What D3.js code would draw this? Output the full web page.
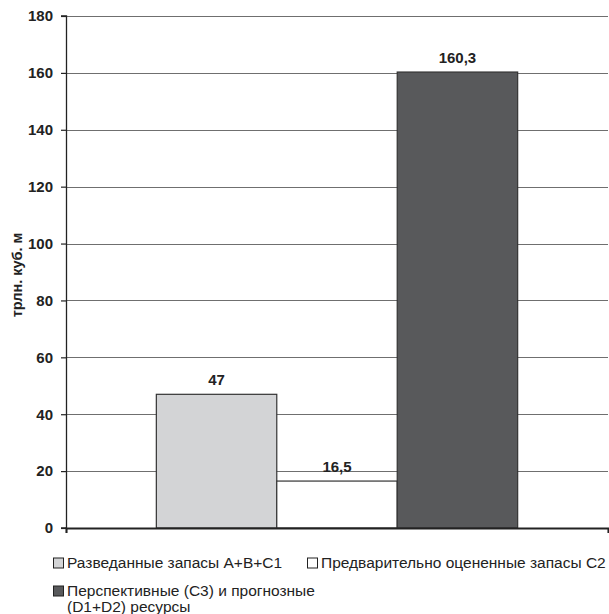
<!DOCTYPE html>
<html>
<head>
<meta charset="utf-8">
<script src="https://cdn.jsdelivr.net/npm/d3@7"></script>
<style>
  body { margin: 0; background: #fff; }
  svg { display: block; font-family: "Liberation Sans", Arial, sans-serif; }
</style>
</head>
<body>
<svg id="chart" width="609" height="614"></svg>
<script>
// Gas reserves and resources, trillion cubic metres
const seriesNames = [
  "Разведанные запасы A+B+C1",
  "Предварительно оцененные запасы C2",
  "Перспективные (C3) и прогнозные (D1+D2) ресурсы"
];
const seriesValues = [47, 16.5, 160.3];
const valueLabels = ["47", "16,5", "160,3"];
const seriesColors = ["#d3d4d6", "#ffffff", "#58595b"];
const yTicks = [0, 20, 40, 60, 80, 100, 120, 140, 160, 180];
const yTitle = "трлн. куб. м";

const svg = d3.select("#chart");
const margin = { left: 66, right: 1, top: 16, bottom: 86 };
const W = 609, H = 614;
const plotW = W - margin.left - margin.right;
const plotH = H - margin.top - margin.bottom;

const g = svg.append("g").attr("transform", `translate(${margin.left},${margin.top})`);

const y = d3.scaleLinear().domain([0, 180]).range([plotH, 0]);
// single category; bars grouped with a 150% gap width
const x = d3.scaleBand().domain(["all"]).range([0, plotW]).paddingInner(0).paddingOuter(0.25);
const xs = d3.scaleBand().domain(d3.range(seriesValues.length)).range([0, x.bandwidth()]).padding(0);

// gridlines
g.append("g")
  .selectAll("line")
  .data(yTicks.filter(t => t > 0))
  .join("line")
  .attr("x1", 0).attr("x2", plotW)
  .attr("y1", d => Math.round(y(d)) + 0.5).attr("y2", d => Math.round(y(d)) + 0.5)
  .attr("stroke", "#6f6f6f").attr("stroke-width", 1);

// bars
g.append("g")
  .selectAll("rect")
  .data(seriesValues)
  .join("rect")
  .attr("x", (d, i) => x("all") + xs(i))
  .attr("y", d => y(d))
  .attr("width", xs.bandwidth())
  .attr("height", d => plotH - y(d))
  .attr("fill", (d, i) => seriesColors[i])
  .attr("stroke", "#333")
  .attr("stroke-width", 1.2);

// value labels
g.append("g")
  .selectAll("text")
  .data(seriesValues)
  .join("text")
  .attr("x", (d, i) => x("all") + xs(i) + xs.bandwidth() / 2)
  .attr("y", d => y(d) - 9)
  .attr("text-anchor", "middle")
  .attr("font-size", 15)
  .attr("font-weight", "bold")
  .attr("fill", "#222")
  .text((d, i) => valueLabels[i]);

// y axis
const yAxis = d3.axisLeft(y).tickValues(yTicks).tickSize(5).tickPadding(8);
const ya = g.append("g").call(yAxis);
ya.select(".domain").attr("stroke", "#222").attr("stroke-width", 1.3).attr("d", `M-5,${plotH}H0.5V0H-5`);
ya.selectAll(".tick line").attr("stroke", "#222").attr("stroke-width", 1.2);
ya.selectAll(".tick text")
  .attr("font-size", 15).attr("font-weight", "bold").attr("fill", "#222")
  .attr("font-family", "Liberation Sans, Arial, sans-serif");

// x axis baseline
const xAxis = d3.axisBottom(d3.scaleLinear().domain([0, 1]).range([0, plotW])).tickValues([0, 1]).tickSize(5).tickFormat("");
const xa = g.append("g").attr("transform", `translate(0,${plotH})`).call(xAxis);
xa.select(".domain").attr("stroke", "#222").attr("stroke-width", 2);
xa.selectAll(".tick line").attr("stroke", "#222").attr("stroke-width", 1.2);

// y axis title
svg.append("text")
  .attr("transform", `translate(22,${margin.top + plotH / 2 + 3}) rotate(-90)`)
  .attr("text-anchor", "middle")
  .attr("font-size", 14.5).attr("font-weight", "bold").attr("fill", "#222")
  .text(yTitle);

// legend
const legendItems = [
  { x: 53, y: 567.5, lines: [seriesNames[0]] },
  { x: 307, y: 567.5, lines: [seriesNames[1]] },
  { x: 53, y: 595.5, lines: ["Перспективные (C3) и прогнозные", "(D1+D2) ресурсы"] }
];
const lg = svg.append("g");
legendItems.forEach((it, i) => {
  lg.append("rect")
    .attr("x", it.x + 0.5).attr("y", it.y - 9.5)
    .attr("width", 10).attr("height", 10)
    .attr("fill", seriesColors[i]).attr("stroke", "#222").attr("stroke-width", 1);
  const t = lg.append("text")
    .attr("x", it.x + 14).attr("y", it.y)
    .attr("font-size", 15.5).attr("fill", "#222");
  it.lines.forEach((ln, k) => {
    t.append("tspan").attr("x", it.x + 14).attr("dy", k === 0 ? 0 : 16).text(ln);
  });
});
</script>
</body>
</html>
